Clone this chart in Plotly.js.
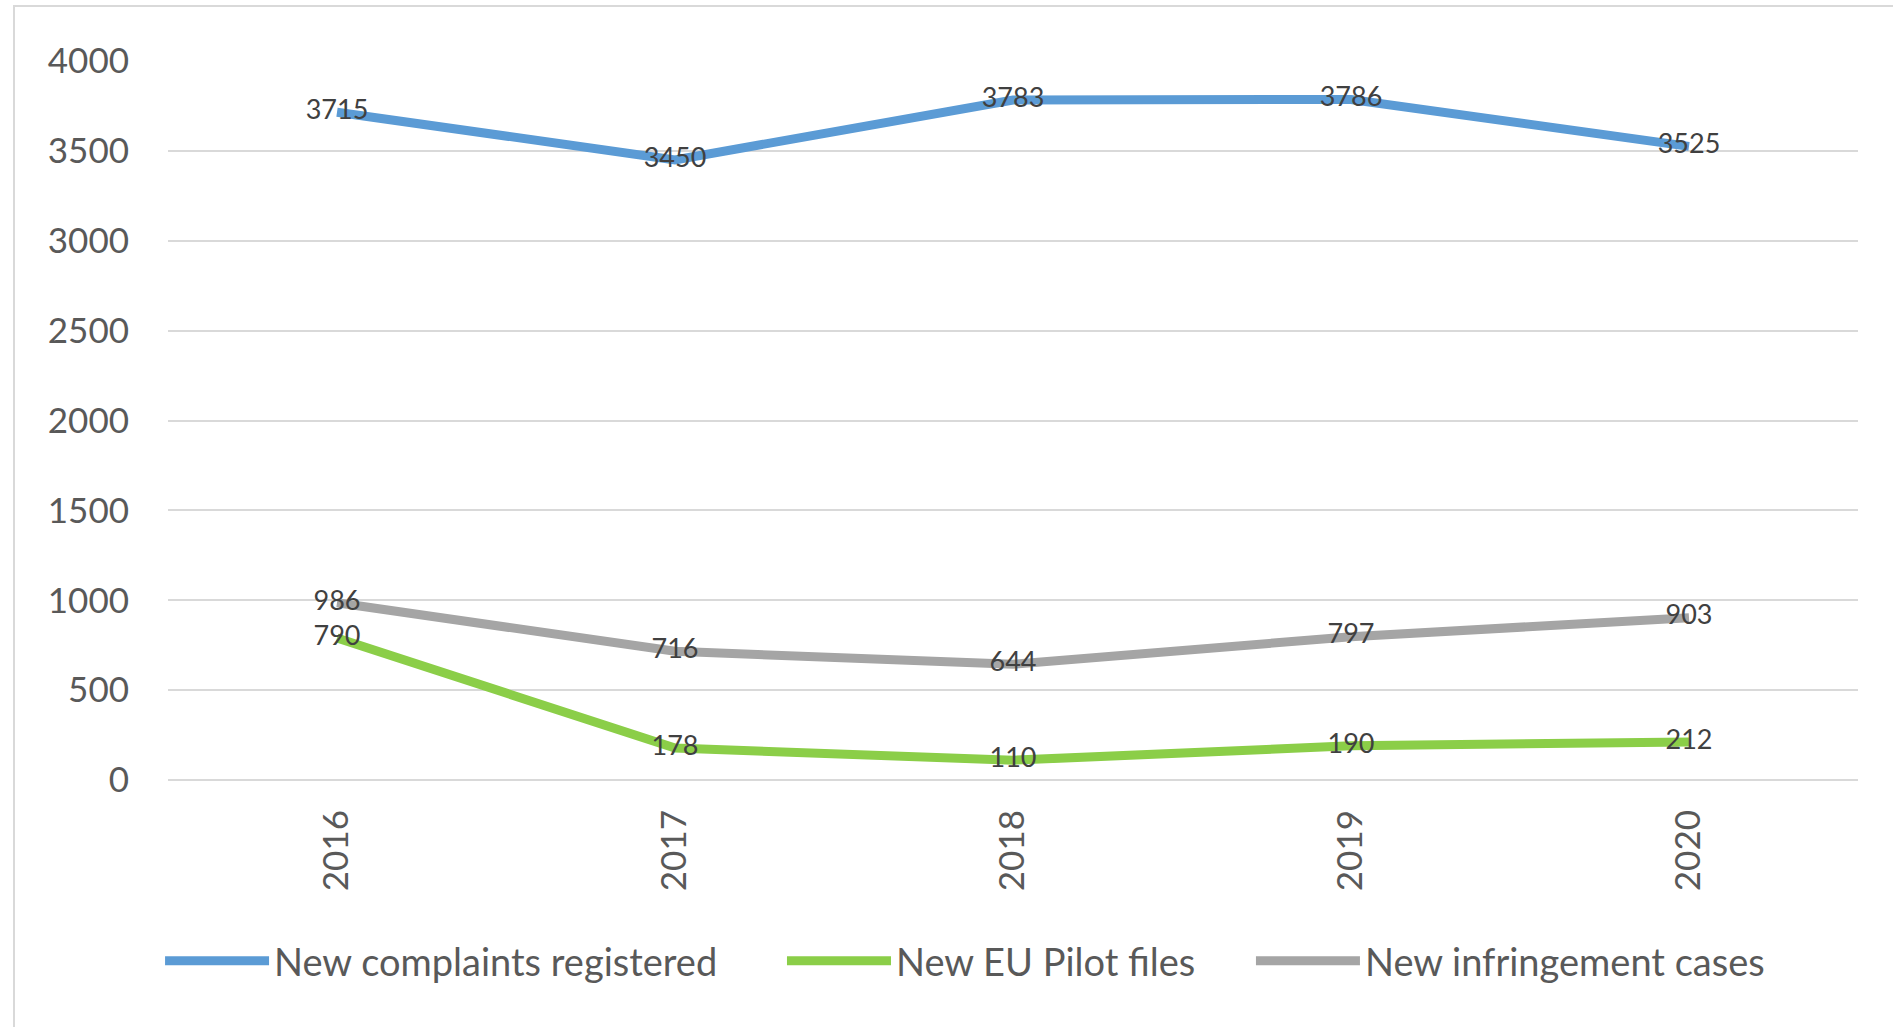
<!DOCTYPE html>
<html>
<head>
<meta charset="utf-8">
<script src="https://cdn.plot.ly/plotly-3.0.1.min.js"></script>
<style>
  html, body { margin: 0; padding: 0; background: #ffffff; overflow: hidden; }
  #chart { position: absolute; left: 0; top: 0; width: 1893px; height: 1027px; }
  #frame { position: absolute; left: 13px; top: 5px; width: 3000px; height: 3000px;
           border: 2px solid #D9D9D9; pointer-events: none; box-sizing: border-box; }
</style>
</head>
<body>
<div id="chart"></div>
<div id="frame"></div>
<script>
const years = ['2016', '2017', '2018', '2019', '2020'];
const complaints = [3715, 3450, 3783, 3786, 3525];
const pilotFiles = [790, 178, 110, 190, 212];
const infringements = [986, 716, 644, 797, 903];
const seriesNames = ['New complaints registered', 'New EU Pilot files', 'New infringement cases'];
const yTicks = [0, 500, 1000, 1500, 2000, 2500, 3000, 3500, 4000];

const FONT = 'Lato, "Open Sans", sans-serif';

function series(name, values, color, legendId) {
  return {
    type: 'scatter',
    mode: 'lines+text',
    name: name,
    legend: legendId,
    x: years,
    y: values,
    text: values.map(String),
    textposition: 'middle center',
    textfont: { family: FONT, size: 27, color: '#404040' },
    line: { color: color, width: 9 },
    cliponaxis: false,
    hoverinfo: 'x+y'
  };
}

const data = [
  series(seriesNames[0], complaints, '#5B9BD5', 'legend'),
  series(seriesNames[1], pilotFiles, '#8BCE48', 'legend2'),
  series(seriesNames[2], infringements, '#A5A5A5', 'legend3')
];

function legendAt(x) {
  return {
    orientation: 'h',
    x: x,
    xanchor: 'left',
    y: -0.2517,
    yanchor: 'middle',
    itemwidth: 104,
    bgcolor: 'rgba(0,0,0,0)',
    font: { family: FONT, size: 38, color: '#595959' }
  };
}

const layout = {
  width: 1893,
  height: 1027,
  margin: { l: 168, r: 35, t: 61, b: 247 },
  paper_bgcolor: '#ffffff',
  plot_bgcolor: '#ffffff',
  font: { family: FONT, color: '#595959' },
  showlegend: true,
  legend: legendAt(-0.0047),
  legend2: legendAt(0.3633),
  legend3: legendAt(0.6408),
  xaxis: {
    type: 'category',
    range: [-0.5, 4.5],
    tickangle: -90,
    showgrid: false,
    showline: false,
    zeroline: false,
    ticks: '',
    ticklabelstandoff: 22,
    tickfont: { family: FONT, size: 35, color: '#595959' }
  },
  yaxis: {
    range: [0, 4000],
    tickvals: yTicks,
    ticktext: yTicks.map(String),
    showgrid: true,
    gridcolor: '#D9D9D9',
    gridwidth: 2,
    zeroline: true,
    zerolinecolor: '#D9D9D9',
    zerolinewidth: 2,
    showline: false,
    ticks: '',
    ticklabelstandoff: 38,
    tickfont: { family: FONT, size: 35, color: '#595959' }
  }
};

Plotly.newPlot('chart', data, layout, { displayModeBar: false, staticPlot: true });
</script>
</body>
</html>
